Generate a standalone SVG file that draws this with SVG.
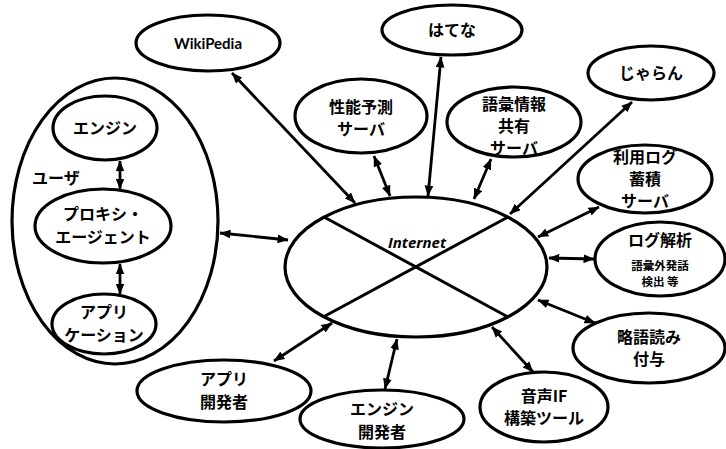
<svg xmlns="http://www.w3.org/2000/svg" width="726" height="449" viewBox="0 0 726 449">
<defs>
<marker id="ah" viewBox="0 0 10 8" refX="9.5" refY="4" markerWidth="11" markerHeight="9" markerUnits="userSpaceOnUse" orient="auto-start-reverse">
<path d="M0,0 L10,4 L0,8 z" fill="#000"/>
</marker>
</defs>
<style>
.n{fill:#fff;stroke:#000;stroke-width:3.2}
.c line{stroke:#000;stroke-width:2.8;marker-start:url(#ah);marker-end:url(#ah)}
text{font-family:"Noto Sans CJK JP","Noto Sans",sans-serif;font-weight:bold;fill:#000;text-anchor:middle}
.t{font-size:16px}
.s{font-size:11.5px}
</style>
<rect width="726" height="449" fill="#fff"/>

<g id="user">
<ellipse class="n" cx="115" cy="221" rx="103" ry="143"/>
<text x="32" y="184" class="t" style="text-anchor:start">ユーザ</text>
</g>
<g id="engine">
<ellipse class="n" cx="105" cy="128" rx="52" ry="32"/>
<text x="105" y="134" class="t">エンジン</text>
</g>
<g id="proxy">
<ellipse class="n" cx="103" cy="226" rx="68" ry="37"/>
<text x="103" y="220" class="t">プロキシ・</text>
<text x="103" y="243" class="t">エージェント</text>
</g>
<g id="app">
<ellipse class="n" cx="104" cy="324" rx="52" ry="30"/>
<text x="104" y="318" class="t">アプリ</text>
<text x="104" y="341" class="t">ケーション</text>
</g>

<g id="internet">
<ellipse class="n" cx="416" cy="267" rx="131" ry="70"/>
<line x1="324" y1="217" x2="508" y2="317" stroke="#000" stroke-width="3"/>
<line x1="325" y1="316" x2="508" y2="217" stroke="#000" stroke-width="3"/>
<text x="417" y="248" style="font-family:'Open Sans','Noto Sans',sans-serif;font-style:italic;font-weight:bold;font-size:15px">Internet</text>
</g>

<g id="wikipedia">
<ellipse class="n" cx="208" cy="43" rx="72" ry="28"/>
<text x="208" y="49" style="font-family:Lato,'Liberation Sans',sans-serif;font-size:15px">WikiPedia</text>
</g>
<g id="perf">
<ellipse class="n" cx="361" cy="116" rx="66" ry="37"/>
<text x="361" y="113" class="t">性能予測</text>
<text x="361" y="135" class="t">サーバ</text>
</g>
<g id="hatena">
<ellipse class="n" cx="452" cy="30" rx="70" ry="25"/>
<text x="452" y="36" class="t">はてな</text>
</g>
<g id="vocab">
<ellipse class="n" cx="514" cy="122" rx="67" ry="35"/>
<text x="514" y="110" class="t">語彙情報</text>
<text x="514" y="132" class="t">共有</text>
<text x="514" y="154" class="t">サーバ</text>
</g>
<g id="jalan">
<ellipse class="n" cx="651" cy="73" rx="63" ry="27"/>
<text x="651" y="79" class="t">じゃらん</text>
</g>
<g id="log">
<ellipse class="n" cx="645" cy="179" rx="67" ry="34"/>
<text x="645" y="163" class="t">利用ログ</text>
<text x="645" y="185" class="t">蓄積</text>
<text x="645" y="207" class="t">サーバ</text>
</g>
<g id="analysis">
<ellipse class="n" cx="660" cy="259" rx="65" ry="37"/>
<text x="660" y="246" class="t">ログ解析</text>
<text x="660" y="270" class="s">語彙外発話</text>
<text x="660" y="286" class="s">検出 等</text>
</g>
<g id="abbr">
<ellipse class="n" cx="649" cy="348" rx="76" ry="35"/>
<text x="649" y="343" class="t">略語読み</text>
<text x="649" y="365" class="t">付与</text>
</g>
<g id="voiceif">
<ellipse class="n" cx="544" cy="407" rx="64" ry="35"/>
<text x="544" y="402" class="t">音声IF</text>
<text x="544" y="424" class="t">構築ツール</text>
</g>
<g id="enginedev">
<ellipse class="n" cx="382" cy="419" rx="82" ry="29"/>
<text x="382" y="415" class="t">エンジン</text>
<text x="382" y="438" class="t">開発者</text>
</g>
<g id="appdev">
<ellipse class="n" cx="224" cy="391" rx="87" ry="31"/>
<text x="224" y="385" class="t">アプリ</text>
<text x="224" y="408" class="t">開発者</text>
</g>

<g id="connectors" class="c">
<line x1="120" y1="161" x2="120" y2="189"/>
<line x1="120" y1="264" x2="120" y2="294"/>
<line x1="220" y1="233" x2="288" y2="240"/>
<line x1="232" y1="73" x2="355" y2="203"/>
<line x1="374" y1="156" x2="390" y2="196"/>
<line x1="441" y1="57" x2="428" y2="196"/>
<line x1="491" y1="159" x2="474" y2="199"/>
<line x1="632" y1="102" x2="510" y2="214"/>
<line x1="599" y1="207" x2="538" y2="237"/>
<line x1="549" y1="258" x2="594" y2="259"/>
<line x1="538" y1="300" x2="595" y2="323"/>
<line x1="492" y1="327" x2="533" y2="372"/>
<line x1="397" y1="339" x2="385" y2="389"/>
<line x1="274" y1="361" x2="332" y2="323"/>
</g>
</svg>
